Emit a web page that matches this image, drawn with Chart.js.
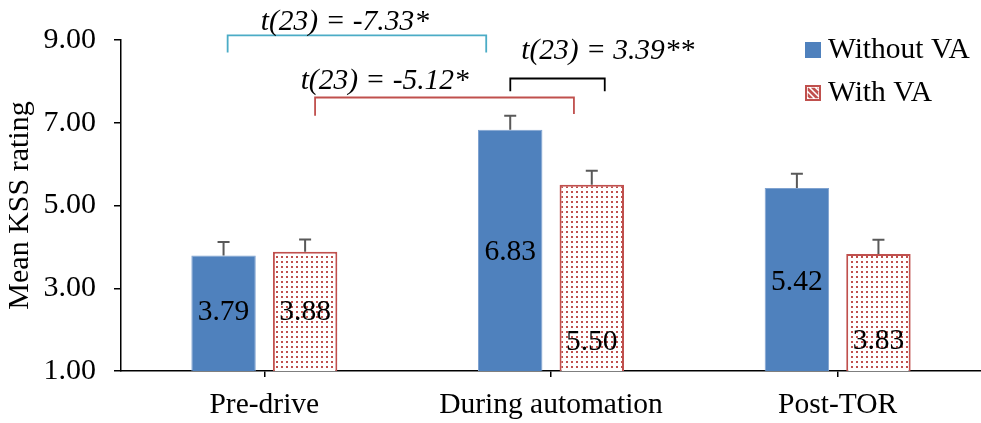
<!DOCTYPE html>
<html><head><meta charset="utf-8">
<script src="https://cdn.jsdelivr.net/npm/chart.js@4/dist/chart.umd.min.js"></script>
<style>html,body{margin:0;padding:0;background:#fff;overflow:hidden;}</style>
</head><body>
<canvas id="c" width="981" height="423" style="width:981px;height:423px;display:block"></canvas>
<script>
// ---- data ----
const categories = ['Pre-drive', 'During automation', 'Post-TOR'];
const seriesNames = ['Without VA', 'With VA'];
const withoutVA = [3.79, 6.83, 5.42];
const withVA = [3.88, 5.50, 3.83];
const withoutVAErr = [0.33, 0.34, 0.35];
const withVAErr = [0.30, 0.34, 0.34];
const yTicks = [1, 3, 5, 7, 9];
const tTestLabels = ['t(23) = -7.33*', 't(23) = -5.12*', 't(23) = 3.39**'];

// ---- styles / placement (not data) ----
const FONT = '"Liberation Serif", "Times New Roman", serif';
const FS = 29.5;
const BLUE = '#4F81BD', RED = '#C0504D', CYAN = '#4BACC6';
const labelAnchors = [[2.41, 3.88, 3.15], [2.43, 1.69, 1.71]]; // y (value units) where bar labels sit
const brackets = [ // x in category units, y in value units
  {x1: -0.128, x2: 0.774, top: 9.11, legL: 8.70, legR: 8.70, tx: 0.281, ty: 9.23, color: CYAN},
  {x1: 0.177, x2: 1.080, top: 7.61, legL: 7.17, legR: 7.21, tx: 0.42, ty: 7.82, color: RED},
  {x1: 0.858, x2: 1.1875, top: 8.07, legL: 7.76, legR: 7.76, tx: 1.198, ty: 8.53, color: '#000'}
];

function dotPattern() {
  const c = document.createElement('canvas'); c.width = 5; c.height = 5;
  const g = c.getContext('2d');
  g.fillStyle = '#fff'; g.fillRect(0, 0, 5, 5);
  g.fillStyle = RED; g.fillRect(1, 1, 2, 2);
  return g.createPattern(c, 'repeat');
}
const pattern = dotPattern();
const errs = [withoutVAErr, withVAErr];

const extras = {
  id: 'extras',
  afterDatasetsDraw(chart) {
    const ctx = chart.ctx, y = chart.scales.y;
    ctx.save();
    // error bars
    chart.data.datasets.forEach((ds, di) => {
      const meta = chart.getDatasetMeta(di);
      meta.data.forEach((el, i) => {
        const top = y.getPixelForValue(ds.data[i] + errs[di][i]);
        ctx.strokeStyle = '#595959'; ctx.lineWidth = 2;
        ctx.beginPath();
        ctx.moveTo(el.x, el.y); ctx.lineTo(el.x, top);
        ctx.moveTo(el.x - 6, top); ctx.lineTo(el.x + 6, top);
        ctx.stroke();
      });
    });
    // value labels
    ctx.fillStyle = '#000'; ctx.font = FS + 'px ' + FONT;
    ctx.textAlign = 'center'; ctx.textBaseline = 'middle';
    chart.data.datasets.forEach((ds, di) => {
      const meta = chart.getDatasetMeta(di);
      meta.data.forEach((el, i) => {
        ctx.fillText(ds.data[i].toFixed(2), el.x, y.getPixelForValue(labelAnchors[di][i]));
      });
    });
    ctx.restore();
  },
  afterDraw(chart) {
    const ctx = chart.ctx, y = chart.scales.y, x = chart.scales.x;
    const x0 = x.getPixelForValue(0), cw = x.getPixelForValue(1) - x0;
    const px = u => x0 + u * cw;
    ctx.save();
    // brackets
    brackets.forEach((b, k) => {
      ctx.strokeStyle = b.color; ctx.lineWidth = 1.8;
      ctx.beginPath();
      ctx.moveTo(px(b.x1), y.getPixelForValue(b.legL));
      ctx.lineTo(px(b.x1), y.getPixelForValue(b.top));
      ctx.lineTo(px(b.x2), y.getPixelForValue(b.top));
      ctx.lineTo(px(b.x2), y.getPixelForValue(b.legR));
      ctx.stroke();
      ctx.fillStyle = '#000'; ctx.font = 'italic ' + FS + 'px ' + FONT;
      ctx.textAlign = 'center'; ctx.textBaseline = 'alphabetic';
      ctx.fillText(tTestLabels[k], px(b.tx), y.getPixelForValue(b.ty));
    });
    // legend
    const lx = 805, rows = [50, 93];
    chart.data.datasets.forEach((ds, di) => {
      const cy = rows[di];
      if (di === 0) {
        ctx.fillStyle = BLUE; ctx.fillRect(lx, cy - 8, 16, 16);
      } else {
        ctx.fillStyle = RED; ctx.fillRect(lx, cy - 8, 16, 16);
        ctx.strokeStyle = '#fff'; ctx.lineWidth = 1.5;
        ctx.beginPath();
        ctx.rect(lx + 2, cy - 6, 12, 12); ctx.clip();
        for (let d = -16; d <= 16; d += 6) { ctx.moveTo(lx + d, cy - 8); ctx.lineTo(lx + d + 16, cy + 8); }
        ctx.stroke();
        ctx.restore(); ctx.save();
      }
      ctx.fillStyle = '#000'; ctx.font = FS + 'px ' + FONT;
      ctx.textAlign = 'left'; ctx.textBaseline = 'middle';
      ctx.fillText(ds.label, lx + 23, cy);
    });
    ctx.restore();
  }
};

new Chart(document.getElementById('c'), {
  type: 'bar',
  data: {
    labels: categories,
    datasets: [
      {label: seriesNames[0], data: withoutVA, backgroundColor: BLUE, borderColor: '#7FA2D0', borderWidth: 1},
      {label: seriesNames[1], data: withVA, backgroundColor: pattern, borderColor: RED, borderWidth: 2}
    ]
  },
  options: {
    responsive: false,
    devicePixelRatio: 1,
    animation: false,
    categoryPercentage: 0.569,
    barPercentage: 0.79,
    layout: {padding: {top: 40, left: 0, right: -4, bottom: 0}},
    plugins: {legend: {display: false}, tooltip: {enabled: false}},
    scales: {
      x: {
        afterFit: s => { s.height = 52; },
        grid: {display: true, drawOnChartArea: false, drawTicks: true, tickLength: 6, offset: false, color: '#000', lineWidth: 1.5},
        border: {display: true, color: '#000', width: 1.5},
        ticks: {color: '#000', font: {family: FONT, size: FS}, padding: 11, maxRotation: 0, autoSkip: false}
      },
      y: {
        min: yTicks[0], max: yTicks[yTicks.length - 1],
        afterBuildTicks: s => { s.ticks = yTicks.map(v => ({value: v})); },
        afterFit: s => { s.width = 121; },
        grid: {display: true, drawOnChartArea: false, drawTicks: true, tickLength: 7, color: '#000', lineWidth: 1.5},
        border: {display: true, color: '#000', width: 1.5},
        ticks: {color: '#000', font: {family: FONT, size: 30}, padding: 18, callback: v => Number(v).toFixed(2)},
        title: {display: true, text: 'Mean KSS rating', color: '#000', font: {family: FONT, size: 30}, padding: {top: 2, bottom: 0}}
      }
    }
  },
  plugins: [extras]
});
</script>
</body></html>
